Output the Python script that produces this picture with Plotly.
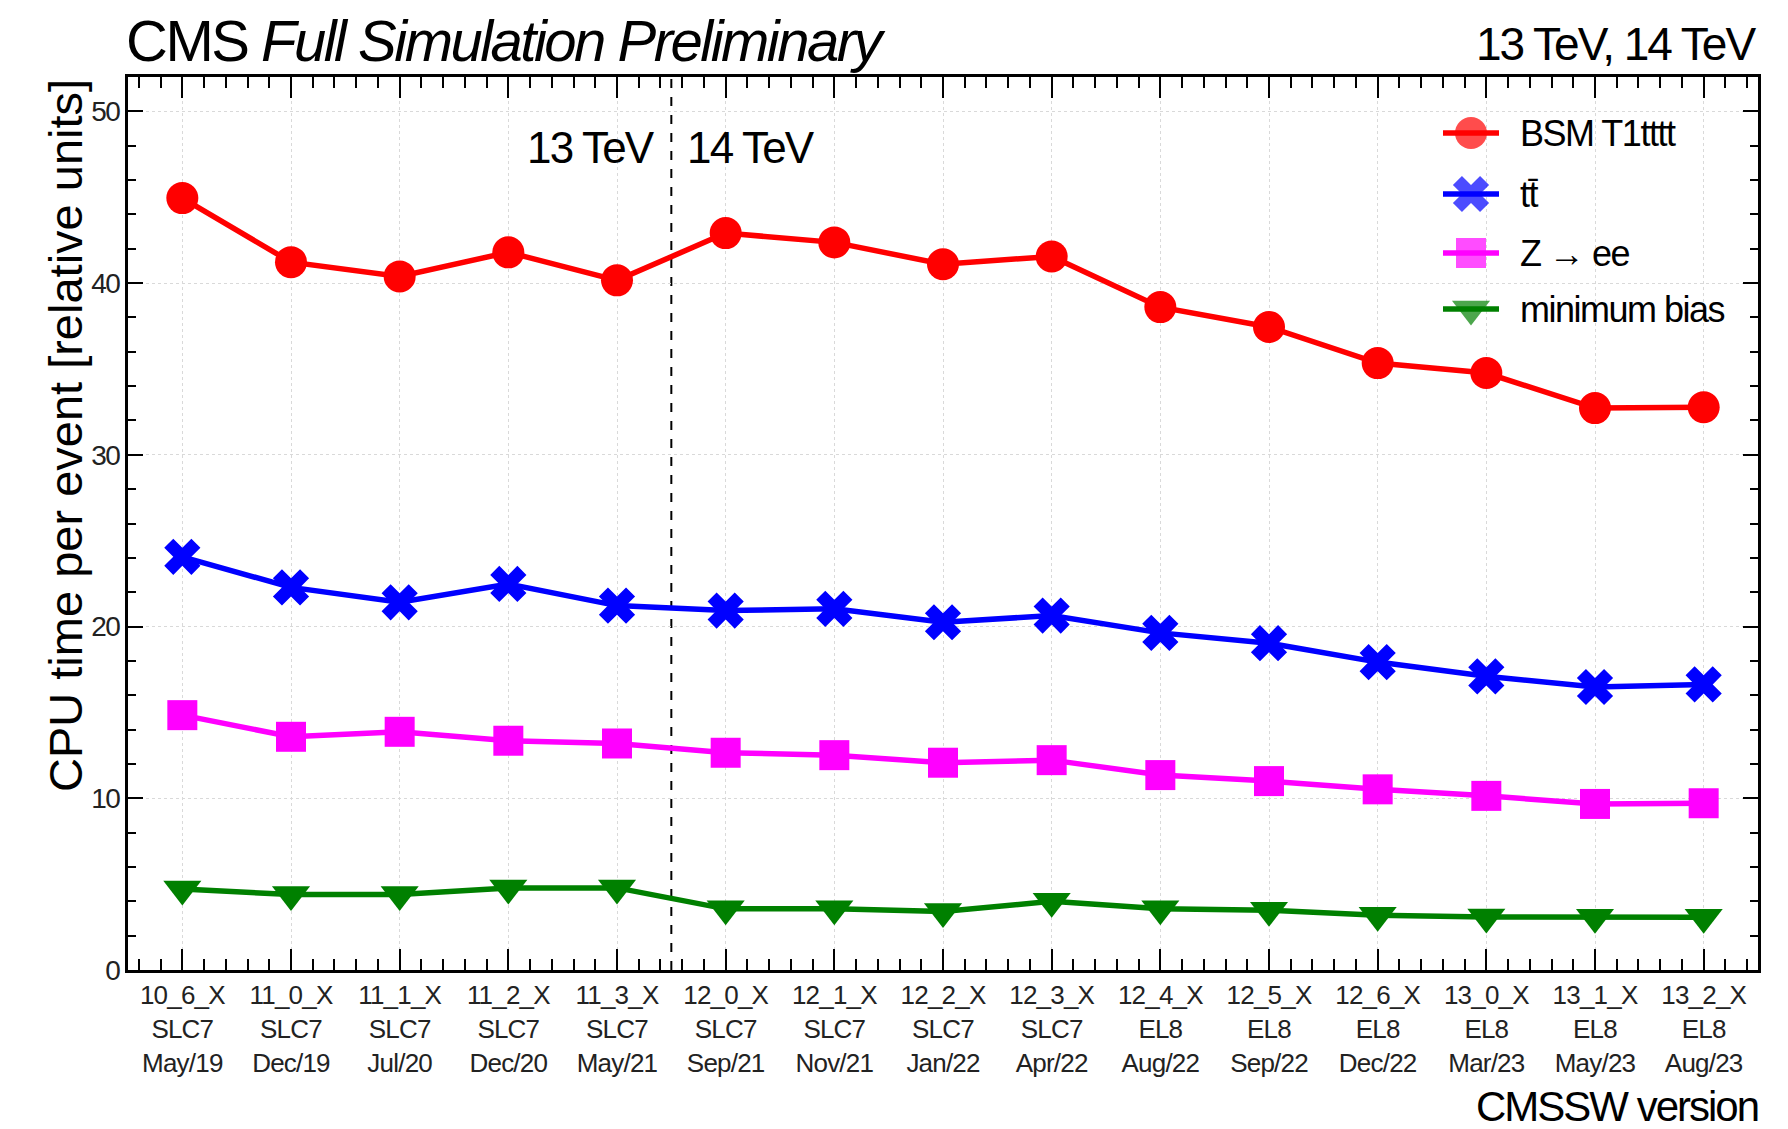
import numpy as np
import plotly.graph_objects as go

# CMSSW release series, platform and release date
versions = ["10_6_X", "11_0_X", "11_1_X", "11_2_X", "11_3_X", "12_0_X", "12_1_X", "12_2_X",
            "12_3_X", "12_4_X", "12_5_X", "12_6_X", "13_0_X", "13_1_X", "13_2_X"]
platforms = ["SLC7", "SLC7", "SLC7", "SLC7", "SLC7", "SLC7", "SLC7", "SLC7",
             "SLC7", "EL8", "EL8", "EL8", "EL8", "EL8", "EL8"]
dates = ["May/19", "Dec/19", "Jul/20", "Dec/20", "May/21", "Sep/21", "Nov/21", "Jan/22",
         "Apr/22", "Aug/22", "Sep/22", "Dec/22", "Mar/23", "May/23", "Aug/23"]

# CPU time per event [relative units]
bsm_t1tttt = [44.95, 41.22, 40.39, 41.79, 40.16, 42.91, 42.37, 41.10,
              41.55, 38.60, 37.44, 35.34, 34.76, 32.72, 32.77]
ttbar = [24.06, 22.28, 21.41, 22.48, 21.22, 20.93, 21.03, 20.25,
         20.64, 19.63, 19.03, 17.93, 17.10, 16.48, 16.63]
z_ee = [14.84, 13.58, 13.87, 13.35, 13.19, 12.65, 12.51, 12.07,
        12.22, 11.35, 11.00, 10.52, 10.14, 9.67, 9.71]
min_bias = [4.72, 4.39, 4.39, 4.78, 4.78, 3.56, 3.56, 3.40,
            4.00, 3.56, 3.48, 3.19, 3.09, 3.07, 3.07]

series_names = ["BSM T1tttt", "tt\u0304", "Z \u2192 ee", "minimum bias"]
series_values = [bsm_t1tttt, ttbar, z_ee, min_bias]

y_ticks = [0, 10, 20, 30, 40, 50]

# energy boundary between the 13 TeV and 14 TeV releases
energy_boundary = 4.5

FONT = "Liberation Sans, Arial, Helvetica, sans-serif"

styles = [
    dict(color="#ff0000", symbol="circle", size=32),
    dict(color="#0000ff", symbol="x", size=32),
    dict(color="#ff00ff", symbol="square", size=30),
    dict(color="#008000", symbol="triangle-down", size=33),
]

# plot frame in page pixels
L, R, T, B = 128, 1758, 77, 970
W, H = 1788, 1129
Y_MAX = 52
X_MIN, X_MAX = -0.5, 14.5


def px(xp):
    return (xp - L) / (R - L)


def py(yp):
    return (B - yp) / (B - T)


def data_x(xp):
    return X_MIN + (xp - L) / (R - L) * (X_MAX - X_MIN)


def data_y(yp):
    return (B - yp) / (B - T) * Y_MAX


def tight(text, spacing):
    return f'<span style="letter-spacing:{spacing}px">{text}</span>'


x = np.arange(len(versions))
ticktext = ["<br>".join(tight(s, -0.8) for s in (v, p, d)) for v, p, d in zip(versions, platforms, dates)]
y_ticktext = [tight(str(v), -1.5) for v in y_ticks]

fig = go.Figure()

for name, vals, st in zip(series_names, series_values, styles):
    fig.add_trace(go.Scatter(
        x=x, y=vals, name=name, mode="lines+markers",
        line=dict(color=st["color"], width=5.5),
        marker=dict(color=st["color"], symbol=st["symbol"], size=st["size"], line=dict(width=0)),
        showlegend=False, cliponaxis=False,
    ))

# legend box in the upper right of the frame
legend_rows = [133, 194, 253, 309]
for name, st, ry in zip(series_names, styles, legend_rows):
    yv = data_y(ry)
    fig.add_trace(go.Scatter(
        x=[data_x(1443), data_x(1471), data_x(1499)], y=[yv, yv, yv], mode="lines+markers",
        line=dict(color=st["color"], width=5.5),
        marker=dict(color=st["color"], symbol=st["symbol"], size=[0, st["size"], 0], line=dict(width=0)),
        showlegend=False, hoverinfo="skip", cliponaxis=False,
    ))

annotations = [
    dict(text=tight("CMS ", -2.5) + "<i>" + tight("Full Simulation Preliminary", -2.5) + "</i>",
         x=px(124), y=py(40), xref="paper", yref="paper",
         xanchor="left", yanchor="middle", showarrow=False, font=dict(family=FONT, size=58, color="black")),
    dict(text=tight("13 TeV, 14 TeV", -2), x=px(1758), y=py(44), xref="paper", yref="paper",
         xanchor="right", yanchor="middle", showarrow=False, font=dict(family=FONT, size=46, color="black")),
    dict(text=tight("CMSSW version", -2), x=px(1760), y=py(1106), xref="paper", yref="paper",
         xanchor="right", yanchor="middle", showarrow=False, font=dict(family=FONT, size=42, color="black")),
    dict(text="CPU time per event [relative units]", x=px(65), y=py(436), xref="paper", yref="paper",
         xanchor="center", yanchor="middle", textangle=-90, showarrow=False,
         font=dict(family=FONT, size=47, color="black")),
    dict(text=tight("13 TeV", -1.8), x=energy_boundary, y=47.9, xref="x", yref="y", xanchor="right",
         yanchor="middle", xshift=-14, showarrow=False, font=dict(family=FONT, size=44, color="black")),
    dict(text=tight("14 TeV", -1.8), x=energy_boundary, y=47.9, xref="x", yref="y", xanchor="left",
         yanchor="middle", xshift=14, showarrow=False, font=dict(family=FONT, size=44, color="black")),
]
for name, ry in zip(series_names, legend_rows):
    annotations.append(dict(text=tight(name, -1.5), x=data_x(1518), y=data_y(ry), xref="x", yref="y",
                            xanchor="left", yanchor="middle", showarrow=False,
                            font=dict(family=FONT, size=36, color="black")))

fig.add_shape(type="line", x0=energy_boundary, x1=energy_boundary, y0=0, y1=Y_MAX, xref="x", yref="y",
              line=dict(color="black", width=2, dash="dash"), layer="below")

axis_common = dict(
    showline=True, linecolor="black", linewidth=3, mirror="ticks",
    ticks="inside", tickcolor="black", tickwidth=1.5,
    showgrid=True, gridcolor="#d9d9d9", gridwidth=1, griddash="dot",
    zeroline=False, fixedrange=True,
)

fig.update_layout(
    width=W, height=H, autosize=False,
    margin=dict(l=L, r=W - R, t=T, b=H - B, pad=0),
    paper_bgcolor="white", plot_bgcolor="white",
    xaxis=dict(
        range=[X_MIN, X_MAX], tickmode="array", tickvals=x, ticktext=ticktext, ticklen=21,
        tickfont=dict(family=FONT, size=26, color="#222222"),
        minor=dict(tickmode="linear", tick0=0, dtick=0.2, ticks="inside", ticklen=11,
                   tickwidth=1.5, tickcolor="black", showgrid=False),
        **axis_common,
    ),
    yaxis=dict(
        range=[0, Y_MAX], tickmode="array", tickvals=y_ticks, ticktext=y_ticktext, ticklen=15,
        tickfont=dict(family=FONT, size=28, color="#222222"),
        minor=dict(tickmode="linear", tick0=0, dtick=2, ticks="inside", ticklen=8,
                   tickwidth=1.5, tickcolor="black", showgrid=False),
        **axis_common,
    ),
    annotations=annotations,
    showlegend=False,
)

fig.write_html("out.html")
